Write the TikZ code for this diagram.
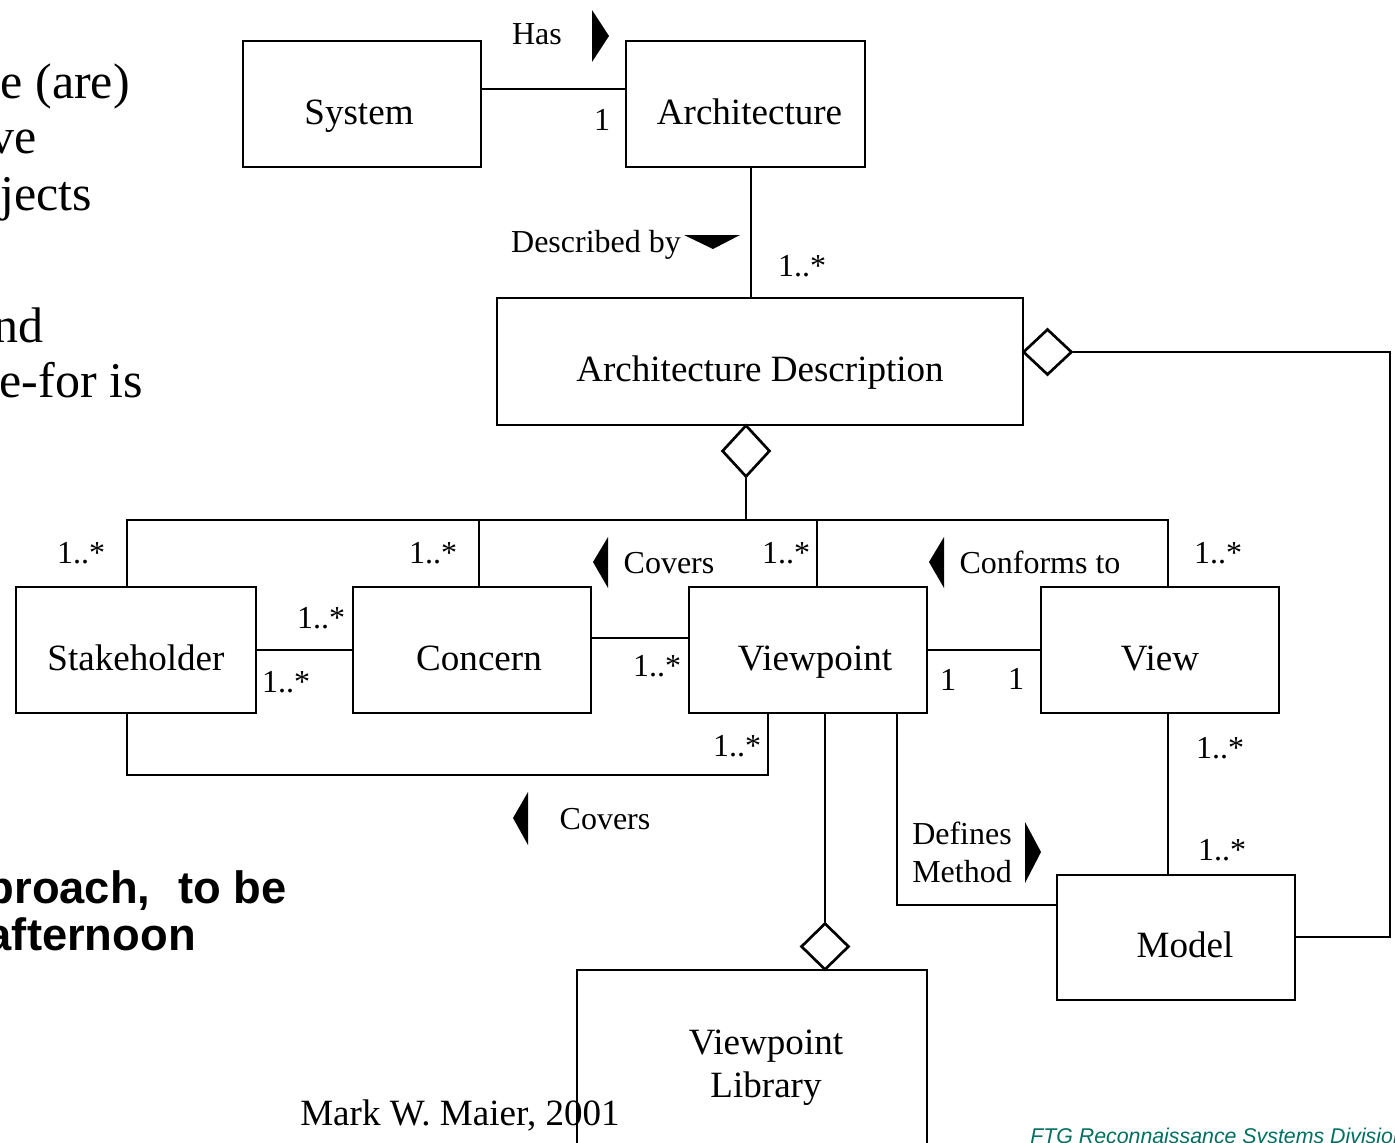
\documentclass[tikz,border=0pt]{standalone}
\usepackage{fontspec}
\setmainfont{Liberation Serif}
\newfontfamily\arialf{Liberation Sans}
\usetikzlibrary{shapes.geometric}
\definecolor{ftg}{RGB}{0,112,96}
\begin{document}
\begin{tikzpicture}[x=0.75pt,y=-0.75pt,
  ln/.style={line width=2pt},
  box/.style n args={2}{draw,line width=2pt,minimum width=#1*0.75pt,minimum height=#2*0.75pt,inner sep=0pt,font=\fontsize{27.8}{33}\selectfont,text height=30.6pt,text depth=0pt},
  dia/.style n args={2}{diamond,draw,fill=white,line width=2pt,minimum width=#1*0.75pt,minimum height=#2*0.75pt,inner sep=0pt},
  lbl/.style={font=\fontsize{24}{28.5}\selectfont,anchor=base,inner sep=0pt},
  tri/.style={fill=black},
  side/.style={font=\fontsize{37.5}{42}\selectfont,anchor=base east,inner sep=0pt},
  boldtxt/.style={font=\arialf\bfseries\fontsize{34}{39}\selectfont,anchor=base east,inner sep=0pt}]
\useasboundingbox (0,0) rectangle (1395,1142);
\fill[white] (0,0) rectangle (1395,1142);

% side text (cut off slide text)
\node[side] (s1) at (130,98) {e (are)};
\node[side] (s2) at (37,153) {ve};
\node[side] (s3) at (92,210) {jects};
\node[side] (s4) at (44,342) {nd};
\node[side] (s5) at (143,397) {e-for is};
\node[boldtxt] (b1) at (287,903) {proach,\hspace{21pt}to be};
\node[boldtxt] (b2) at (196,950) {afternoon};

% boxes
\node[box={238}{126}] (sys) at (362,104) {System\hspace*{4.5pt}};
\node[box={239}{126}] (arch) at (745.5,104) {\hspace*{6pt}Architecture};
\node[box={526}{127}] (ad) at (760,361.5) {Architecture Description};
\node[box={240}{126}] (stk) at (136,650) {Stakeholder};
\node[box={238}{126}] (con) at (472,650) {\hspace*{10.5pt}Concern};
\node[box={238}{126}] (vp) at (808,650) {\hspace*{10.5pt}Viewpoint};
\node[box={238}{126}] (view) at (1160,650) {View};
\node[box={238}{125}] (model) at (1176,937.5) {\hspace*{13.5pt}Model};
\node[box={350}{200}] (lib) at (752,1070) {};
\node[font=\fontsize{27.8}{32.2}\selectfont,align=center,inner sep=0pt] (libtext) at (766,1068) {Viewpoint\\Library};

% diamonds
\node[dia={48}{52}] (dAD) at (746,451) {};
\node[dia={49}{46}] (dR) at (1047.5,352) {};
\node[dia={48}{47}] (dLib) at (825,946.5) {};

% helper coordinates
\coordinate (hasy) at (0,89);
\coordinate (x751) at (751,0);
\coordinate (bL) at (127,520);
\coordinate (bR) at (1168,520);
\coordinate (bus) at (746,520);
\coordinate (cC) at (479,520);
\coordinate (cV) at (817,520);
\coordinate (lp1) at (127,775);
\coordinate (lp2) at (768,775);
\coordinate (cvy) at (0,638);
\coordinate (x825) at (825,0);
\coordinate (dm) at (897,905);
\coordinate (mr) at (1390,937);
\coordinate (mt) at (1390,352);

% connectors
\draw[ln] (sys.east |- hasy) -- (arch.west |- hasy);
\draw[ln] (arch.south -| x751) -- (ad.north -| x751);
\draw[ln] (dAD.south) -- (bus);
\draw[ln] (stk.north -| bL) -- (bL) -- (bR) -- (view.north -| bR);
\draw[ln] (cC) -- (con.north -| cC);
\draw[ln] (cV) -- (vp.north -| cV);
\draw[ln] (stk.east) -- (con.west);
\draw[ln] (con.east |- cvy) -- (vp.west |- cvy);
\draw[ln] (vp.east) -- (view.west);
\draw[ln] (stk.south -| lp1) -- (lp1) -- (lp2) -- (vp.south -| lp2);
\draw[ln] (vp.south -| x825) -- (dLib.north);
\draw[ln] (vp.south -| dm) -- (dm) -- (model.west |- dm);
\draw[ln] (view.south -| bR) -- (model.north -| bR);
\draw[ln] (model.east |- mr) -- (mr) -- (mt) -- (dR.east);

% direction triangles
\fill[tri] (592,10) -- (609,36) -- (592,62) -- cycle;
\fill[tri] (684,235) -- (740,235) -- (713,249) -- cycle;
\fill[tri] (608,537) -- (593,562) -- (608,588) -- cycle;
\fill[tri] (944,537) -- (929,562) -- (944,588) -- cycle;
\fill[tri] (528,792) -- (513,818) -- (528,845) -- cycle;
\fill[tri] (1025,822) -- (1041,852) -- (1025,883) -- cycle;

% labels
\node[lbl] (lHas) at (537,44) {Has};
\node[lbl] (lOne) at (602,130) {1};
\node[lbl] (lDesc) at (596,252) {Described by};
\node[lbl] (lm1) at (802,276) {1..*};
\node[lbl] (lm2) at (81,563) {1..*};
\node[lbl] (lm3) at (433,563) {1..*};
\node[lbl] (lm4) at (786,563) {1..*};
\node[lbl] (lm5) at (1218,563) {1..*};
\node[lbl] (lCov1) at (669,573) {Covers};
\node[lbl] (lConf) at (1040,573) {Conforms to};
\node[lbl] (lm6) at (321,628) {1..*};
\node[lbl] (lm7) at (286,692) {1..*};
\node[lbl] (lm8) at (657,676) {1..*};
\node[lbl] (lo2) at (948,690) {1};
\node[lbl] (lo3) at (1016,689) {1};
\node[lbl] (lm9) at (737,756) {1..*};
\node[lbl] (lCov2) at (605,829) {Covers};
\node[lbl] (lm10) at (1220,758) {1..*};
\node[lbl] (lm11) at (1222,860) {1..*};
\node[lbl,anchor=base west,align=left] (lDef) at (912,882) {Defines\\Method};

% footer texts
\node[font=\fontsize{27.8}{33}\selectfont,anchor=base west,inner sep=0pt] (author) at (300,1125) {Mark W. Maier, 2001};
\node[font=\arialf\itshape\fontsize{16}{19}\selectfont,text=ftg,anchor=base west,inner sep=0pt] (ftgtxt) at (1030,1143) {FTG Reconnaissance Systems Division};
\end{tikzpicture}
\end{document}
